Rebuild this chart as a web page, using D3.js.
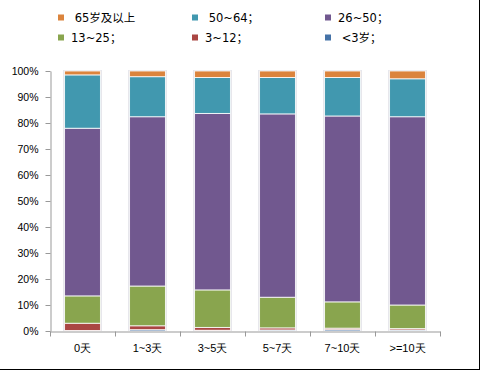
<!DOCTYPE html>
<html>
<head>
<meta charset="utf-8">
<script src="https://cdn.jsdelivr.net/npm/d3@7"></script>
<style>
  body { margin: 0; background: #fff; }
  svg { display: block; font-family: "DejaVu Sans", "Noto Sans CJK SC", sans-serif; }
</style>
</head>
<body>
<svg id="chart" width="480" height="370"></svg>
<script>
const categories = ['0天', '1~3天', '3~5天', '5~7天', '7~10天', '>=10天']
const seriesNames = ['<3岁；', '3~12；', '13~25；', '26~50；', '50~64；', '65岁及以上']
const lt3 = [0.2, 0.5, 0.3, 0.4, 0.5, 0.4]
const a3_12 = [2.8, 1.5, 1.1, 0.8, 0.6, 0.5]
const a13_25 = [10.5, 15.3, 14.4, 11.8, 10.1, 9.1]
const a26_50 = [64.5, 65.1, 67.9, 70.5, 71.5, 72.4]
const a50_64 = [20.5, 15.4, 13.8, 14.0, 14.8, 14.6]
const a65 = [1.5, 2.2, 2.5, 2.5, 2.5, 3.0]
const yTicks = [0, 10, 20, 30, 40, 50, 60, 70, 80, 90, 100]

const colors = ['#4572A7', '#AA4643', '#89A54E', '#71588F', '#4198AF', '#DB843D']
const series = [lt3, a3_12, a13_25, a26_50, a50_64, a65]

const rows = categories.map((c, i) => {
  const r = { cat: c }
  seriesNames.forEach((s, j) => r[s] = series[j][i])
  return r
})
const stacked = d3.stack().keys(seriesNames)(rows)

const svg = d3.select('#chart')
const x = d3.scaleBand().domain(categories).range([50, 440]).paddingInner(0.45).paddingOuter(0.225)
const y = d3.scaleLinear().domain([0, 100]).range([331, 71])

// frame (right and bottom edges visible)
svg.append('line').attr('x1', 479.5).attr('x2', 479.5).attr('y1', 0).attr('y2', 369.5).attr('stroke', '#000')
svg.append('line').attr('x1', 0).attr('x2', 480).attr('y1', 369.5).attr('y2', 369.5).attr('stroke', '#000')

// bar shadows
svg.append('g').selectAll('rect').data(categories).join('rect')
  .attr('x', d => x(d) - 1.5)
  .attr('y', y(100) - 1)
  .attr('width', x.bandwidth() + 3)
  .attr('height', y(0) - y(100) + 1)
  .attr('fill', '#e4e4ea')

svg.append('g').selectAll('g').data(stacked).join('g')
  .attr('fill', (d, i) => colors[i])
  .selectAll('rect').data(d => d).join('rect')
  .attr('x', d => x(d.data.cat))
  .attr('y', d => y(d[1]))
  .attr('width', x.bandwidth())
  .attr('height', d => y(d[0]) - y(d[1]))
  .attr('stroke', '#fff')
  .attr('stroke-width', 0.8)

// y axis
const yAxis = svg.append('g').attr('transform', 'translate(50.5,0)')
  .call(d3.axisLeft(y).tickValues(yTicks).tickFormat(d => d + '%').tickSize(5).tickSizeOuter(0))
yAxis.selectAll('line, path').attr('stroke', '#999')
yAxis.selectAll('text').attr('font-size', 10.5).attr('fill', '#000').attr('x', -12)

// x axis
const xAxis = svg.append('g').attr('transform', 'translate(0,331.5)')
  .call(d3.axisBottom(x).tickSize(0).tickSizeOuter(0))
xAxis.select('path').attr('stroke', '#999')
xAxis.selectAll('text').attr('font-size', 11).attr('fill', '#000').attr('dy', '1.55em')
const edges = categories.map(c => x(c) - x.step() * x.paddingInner() / 2).concat([440])
xAxis.selectAll('.edge').data(edges).join('line').attr('class', 'edge')
  .attr('x1', d => Math.round(d) + 0.5).attr('x2', d => Math.round(d) + 0.5)
  .attr('y1', 0).attr('y2', 5).attr('stroke', '#999')

// legend
const legendOrder = [5, 4, 3, 2, 1, 0]
const legendLabels = [' 65岁及以上', ' 50~64；', '26~50；', '13~25；', '3~12；', ' <3岁；']
const legend = svg.append('g').selectAll('g').data(legendOrder).join('g')
  .attr('transform', (d, i) => `translate(${[58, 192, 325][i % 3]},${i < 3 ? 17.5 : 37.5})`)
legend.append('rect').attr('x', 0).attr('y', -3).attr('width', 6).attr('height', 6)
  .attr('fill', d => colors[d])
legend.append('text').attr('x', 13).attr('y', 0).attr('dy', '0.35em')
  .attr('font-size', 11.5).attr('fill', '#000')
  .attr('xml:space', 'preserve')
  .text((d, i) => legendLabels[i])
</script>
</body>
</html>
